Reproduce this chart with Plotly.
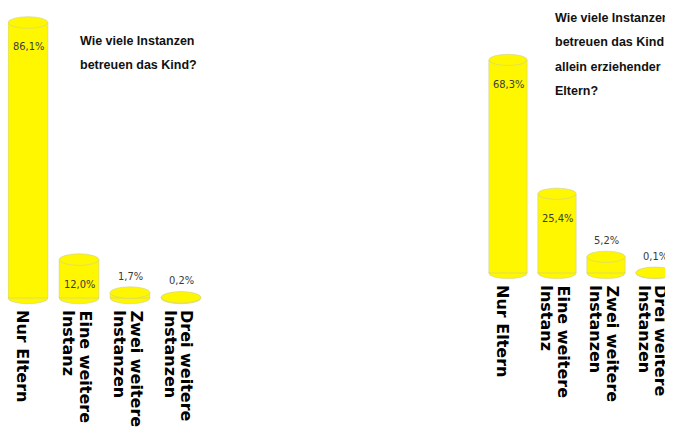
import plotly.graph_objects as go

categories = ["Nur Eltern", "Eine weitere<br>Instanz", "Zwei weitere<br>Instanzen", "Drei weitere<br>Instanzen"]
values_all = [86.1, 12.0, 1.7, 0.2]
values_single = [68.3, 25.4, 5.2, 0.1]
labels_all = ["86,1%", "12,0%", "1,7%", "0,2%"]
labels_single = ["68,3%", "25,4%", "5,2%", "0,1%"]
title_all = ["Wie viele Instanzen", "betreuen das Kind?"]
title_single = ["Wie viele Instanzen", "betreuen das Kind", "allein erziehender", "Eltern?"]

# the page body has an 8px margin; work in window pixels and convert
OFF = 8
WIN_W, WIN_H = 673, 442
W, H = WIN_W - OFF, WIN_H - OFF


def px_x(x):
    return (x - OFF) / W


def px_y(y):
    return 1 - (y - OFF) / H


YELLOW = "#FFF700"
EDGE = "#CFCF9A"
BAR_W = 0.78
ELL_H = 1.8  # half height of cylinder caps, in data units
LAB_FONT = dict(family="DejaVu Sans, Verdana, sans-serif", size=16, color="#000000")
PCT_FONT = dict(family="DejaVu Sans Condensed, DejaVu Sans, sans-serif", size=11, color="#3a3a3a")
TITLE_FONT = dict(family="Liberation Sans, Arial, sans-serif", size=12.5, color="#111111")
LINE_PITCH = 16

xs = list(range(len(categories)))

fig = go.Figure()

panels = [
    dict(vals=values_all, labs=labels_all, xa="x", ya="y"),
    dict(vals=values_single, labs=labels_single, xa="x2", ya="y2"),
]

shapes = []
annotations = []
for p in panels:
    fig.add_trace(go.Bar(
        x=xs, y=p["vals"], width=BAR_W, xaxis=p["xa"], yaxis=p["ya"],
        marker=dict(color=YELLOW, line=dict(color=EDGE, width=0.6)),
        hoverinfo="skip", showlegend=False,
    ))
    for i, v in zip(xs, p["vals"]):
        shapes.append(dict(type="circle", xref=p["xa"], yref=p["ya"], layer="below",
                           x0=i - BAR_W / 2, x1=i + BAR_W / 2, y0=-ELL_H, y1=ELL_H,
                           fillcolor=YELLOW, line=dict(color=EDGE, width=0.6)))
        shapes.append(dict(type="circle", xref=p["xa"], yref=p["ya"], layer="above",
                           x0=i - BAR_W / 2, x1=i + BAR_W / 2, y0=v - ELL_H, y1=v + ELL_H,
                           fillcolor=YELLOW, line=dict(color=EDGE, width=0.6)))
    for i, v, t in zip(xs, p["vals"], p["labs"]):
        inside = v >= 10
        annotations.append(dict(
            x=i, y=v, xref=p["xa"], yref=p["ya"], text=t, showarrow=False,
            yanchor="top" if inside else "bottom", yshift=-16 if inside else 8,
            font=PCT_FONT,
        ))
    # category labels, rotated, one annotation per line (first line on the right)
    for i, cat in zip(xs, categories):
        lines = cat.split("<br>")
        n = len(lines)
        for j, line in enumerate(lines):
            annotations.append(dict(
                x=i, y=0, xref=p["xa"], yref=p["ya"], text="<b>" + line + "</b>", showarrow=False,
                textangle=90, xanchor="center", yanchor="top",
                xshift=((n - 1) / 2 - j) * LINE_PITCH - (5 if n == 1 else 2), yshift=-10,
                font=LAB_FONT,
            ))

for k, line in enumerate(title_all):
    annotations.append(dict(x=px_x(78), y=px_y(41 + 24 * k), xref="paper", yref="paper",
                            xanchor="left", yanchor="middle", text="<b>" + line + "</b>",
                            showarrow=False, font=TITLE_FONT))
for k, line in enumerate(title_single):
    annotations.append(dict(x=px_x(553), y=px_y(18 + 24.5 * k), xref="paper", yref="paper",
                            xanchor="left", yanchor="middle", text="<b>" + line + "</b>",
                            showarrow=False, font=TITLE_FONT))

xcommon = dict(tickmode="array", tickvals=xs, showticklabels=False,
               showgrid=False, zeroline=False, showline=False, ticks="", fixedrange=True)
ycommon = dict(showgrid=False, zeroline=False, showline=False, showticklabels=False,
               ticks="", fixedrange=True)

# left panel: baseline at window y=298, 3.2 px per unit, bar spacing 51 px, first bar at x=28
l_scale, l_base, l_sp, l_c0 = 3.2, 298, 51, 28
# right panel: baseline at window y=273, 3.12 px per unit, spacing 49 px, first bar at x=508
r_scale, r_base, r_sp, r_c0 = 3.12, 273, 49, 508
ymin = -2.5

l_left, l_right = OFF, 209
r_left, r_right = 481, WIN_W

fig.update_layout(
    width=W, height=H, autosize=False,
    margin=dict(l=0, r=0, t=0, b=0),
    paper_bgcolor="white", plot_bgcolor="white",
    xaxis=dict(domain=[px_x(l_left), px_x(l_right)],
               range=[(l_left - l_c0) / l_sp, (l_right - l_c0) / l_sp], anchor="y", **xcommon),
    yaxis=dict(domain=[px_y(l_base - ymin * l_scale), 1],
               range=[ymin, (l_base - OFF) / l_scale], anchor="x", **ycommon),
    xaxis2=dict(domain=[px_x(r_left), px_x(r_right)],
                range=[(r_left - r_c0) / r_sp, (r_right - r_c0) / r_sp], anchor="y2", **xcommon),
    yaxis2=dict(domain=[px_y(r_base - ymin * r_scale), 1],
                range=[ymin, (r_base - OFF) / r_scale], anchor="x2", **ycommon),
    shapes=shapes,
    annotations=annotations,
)

fig.write_html("out.html")
